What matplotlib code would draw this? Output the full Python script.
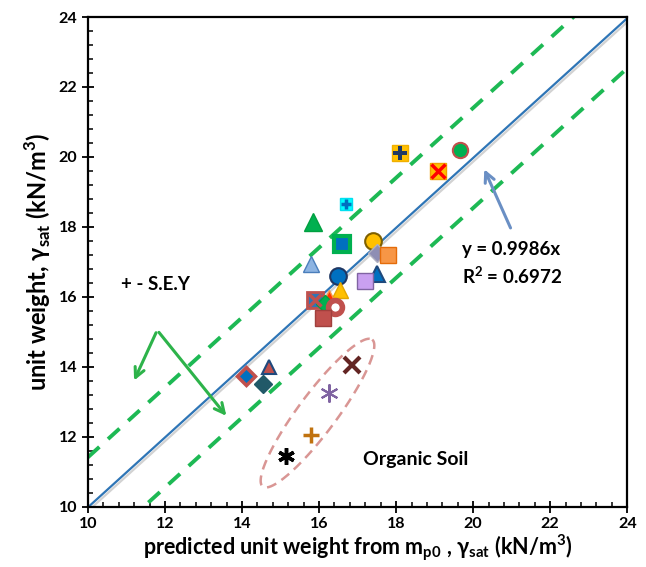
import matplotlib
matplotlib.use('Agg')
import matplotlib.pyplot as plt
import matplotlib.patheffects as pe
import numpy as np

plt.rcParams['font.family'] = ['Lato', 'DejaVu Sans']
plt.rcParams['font.weight'] = 'bold'

# predicted (x) and measured (y) unit weights, kN/m3
pred = [18.1, 19.65, 19.1, 16.7, 15.85, 16.6, 15.8, 17.4, 17.5, 17.8, 16.5,
        17.5, 17.2, 16.55, 15.9, 16.25, 16.15, 16.42, 16.1, 14.1, 14.7, 14.55]
meas = [20.1, 20.2, 19.6, 18.65, 18.15, 17.5, 16.95, 17.6, 17.25, 17.2, 16.6,
        16.65, 16.45, 16.2, 15.9, 16.0, 15.8, 15.7, 15.4, 13.75, 14.0, 13.5]

# organic soils
org_pred = [16.85, 16.25, 15.8, 15.15]
org_meas = [14.05, 13.25, 12.05, 11.45]

slope = 0.9986
r2 = 0.6972
sey = 1.43

# marker styles per point
mk = ['s', 'o', 's', 's', '^', 's', '^', 'o', 'D', 's', 'o',
      '^', 's', '^', 's', '^', 'D', 'o', 's', 'D', '^', 'D']
fc = ['#FFC000', '#00B050', '#FFC000', '#00FFFF', '#00B050', '#0070C0', '#8DB4E2',
      '#FFC000', '#8E8EB4', '#F79646', '#0070C0', '#0070C0', '#C9A0F0', '#FFC000',
      '#2E75B6', '#FF3300', '#00B050', 'white', '#C0504D', '#0070C0', '#C0504D', '#215968']
ec = ['#F0B000', '#C0504D', '#F0A000', '#00E0F0', '#00A040', '#00B050', '#4A7EBB',
      '#7F6000', '#B0B0C0', '#E46C0A', '#1F3864', '#1F497D', '#8064A2', '#E3A600',
      '#C0504D', '#F79646', '#00A040', '#C0504D', '#A0403D', '#C0504D', '#1F497D', '#215968']
ms = [12, 11, 12, 8, 12.5, 12, 11.5, 12, 9, 12, 12, 11.5, 12, 11, 12, 10, 9, 10, 12, 9, 10, 9]
ew = [1, 1.5, 1, 1, 1, 3, 1, 1.5, 1, 1, 1.5, 1.5, 1, 1, 2, 1, 1, 4, 1, 2.5, 1.5, 1]
# overlays drawn on top of some markers (index, marker, colour, size)
overlay = [(0, 'P', '#1F3864', 10), (2, 'x', '#FF0000', 10), (3, '+', '#0070C0', 7),
           (14, 'x', '#C0504D', 9)]

org_mk = ['x', (6, 2, 0), '+', (6, 2, 0)]
org_c = ['#632523', '#8064A2', '#C0720F', 'black']
org_ms = [11, 13, 11, 12]
org_ew = [3, 1.5, 2.5, 2.5]

fig = plt.figure(figsize=(6.46, 5.67), dpi=100)
ax = fig.add_axes([0.136, 0.106, 0.835, 0.864])

xx = np.array([10, 24])
ax.plot(xx, slope * xx, color='#2E75B6', lw=1.6, zorder=2,
        path_effects=[pe.SimpleLineShadow(offset=(1, -1.8), shadow_color='#808080', alpha=0.35),
                      pe.Normal()])
ax.plot(xx, slope * xx + sey, color='#1DB954', lw=2.8, ls=(0, (4, 3)), zorder=2)
ax.plot(xx, slope * xx - sey, color='#1DB954', lw=2.8, ls=(0, (4, 3)), zorder=2)

for i in range(len(pred)):
    ax.plot(pred[i], meas[i], marker=mk[i], ms=ms[i], mfc=fc[i], mec=ec[i],
            mew=ew[i], ls='none', zorder=3)
for i, m, c, s in overlay:
    ax.plot(pred[i], meas[i], marker=m, ms=s, color=c, mew=2.5 if m != 'P' else 0,
            ls='none', zorder=4)
for i in range(len(org_pred)):
    ax.plot(org_pred[i], org_meas[i], marker=org_mk[i], ms=org_ms[i], color=org_c[i],
            mew=org_ew[i], ls='none', zorder=3)

# ellipse around the organic soils
t = np.linspace(0, 2 * np.pi, 200)
cx, cy = 15.96, 12.68
ax_vec = np.array([1.42, 2.1])
mi_vec = np.array([0.40, -0.33])
ex = cx + np.cos(t) * ax_vec[0] + np.sin(t) * mi_vec[0]
ey = cy + np.cos(t) * ax_vec[1] + np.sin(t) * mi_vec[1]
ax.plot(ex, ey, color='#D99694', lw=1.8, ls=(0, (4, 2.5)), zorder=2)
ax.text(18.5, 11.35, 'Organic Soil', fontsize=14, fontweight='bold', ha='center', va='center')

# S.E.Y annotation
ax.text(11.75, 16.35, '+ - S.E.Y', fontsize=13.5, fontweight='bold', ha='center', va='center')
for tip in [(11.17, 13.54), (13.64, 12.54)]:
    ax.annotate('', xy=tip, xytext=(11.8, 15.05),
                arrowprops=dict(arrowstyle='->,head_length=0.7,head_width=0.35',
                                color='#2DB34A', lw=2.2))

# regression label
ax.annotate('', xy=(20.26, 19.72), xytext=(21.0, 17.9),
            arrowprops=dict(arrowstyle='->,head_length=0.7,head_width=0.35',
                            color='#6A8FC4', lw=2.2))
ax.text(19.72, 17.35, 'y = %.4fx' % slope, fontsize=13.5, fontweight='bold', va='center')
ax.text(19.72, 16.6, 'R$^{\\mathregular{2}}$ = %.4f' % r2, fontsize=13.5, fontweight='bold', va='center')

ax.set_xlim(10, 24)
ax.set_ylim(10, 24)
ax.set_xticks(np.arange(10, 25, 2))
ax.set_yticks(np.arange(10, 25, 2))
ax.set_xticks(np.arange(10, 24.01, 0.4), minor=True)
ax.set_yticks(np.arange(10, 24.01, 0.4), minor=True)
ax.tick_params(which='major', direction='inout', length=8, width=1.3, labelsize=11.5)
ax.tick_params(which='minor', direction='in', length=3.5, width=1.1)
for lab in ax.get_xticklabels() + ax.get_yticklabels():
    lab.set_fontweight('bold')
for s in ax.spines.values():
    s.set_linewidth(1.6)

ax.set_xlabel('predicted unit weight from m$_{\\mathregular{p0}}$ , γ$_{\\mathregular{sat}}$ (kN/m$^{\\mathregular{3}}$)',
              fontsize=15.5, fontweight='bold', labelpad=1)
ax.set_ylabel('unit weight, γ$_{\\mathregular{sat}}$ (kN/m$^{\\mathregular{3}}$)',
              fontsize=17, fontweight='bold', labelpad=4)

plt.savefig('out.png', dpi=100)
plt.close()
